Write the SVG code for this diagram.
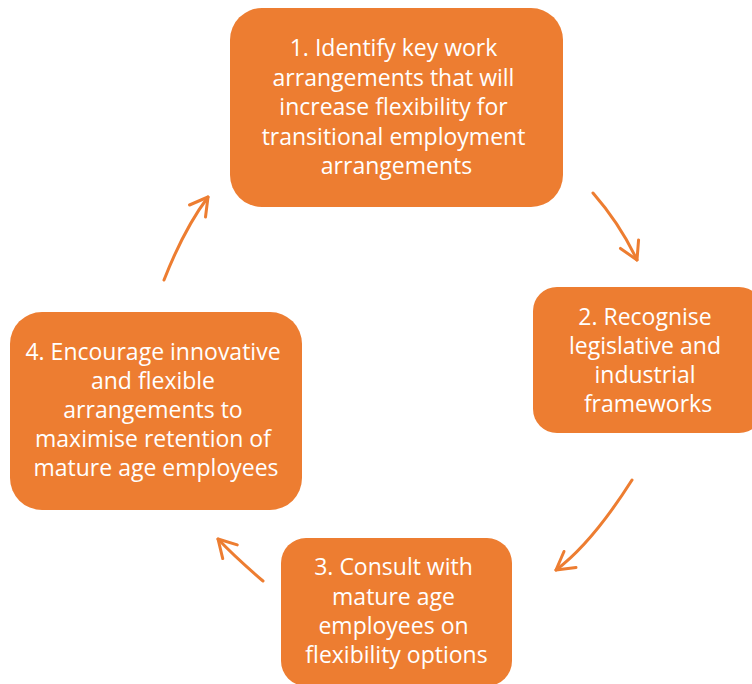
<svg xmlns="http://www.w3.org/2000/svg" width="752" height="684" viewBox="0 0 752 684">
  <style>
    .box { fill: #ED7D31; }
    .label { font-family: "Open Sans", "Liberation Sans", sans-serif; font-size: 23px; fill: #FFFFFF; text-anchor: middle; }
    .flow { fill: none; stroke: #ED7D31; stroke-width: 3; stroke-linecap: round; stroke-linejoin: round; }
  </style>
  <defs>
    <marker id="chevron" markerUnits="userSpaceOnUse" markerWidth="24" markerHeight="24" refX="0" refY="0" orient="auto" overflow="visible">
      <path d="M-17.5,-10 L0,0 L-17.5,10" fill="none" stroke="#ED7D31" stroke-width="3" stroke-linecap="round" stroke-linejoin="round"/>
    </marker>
  </defs>

  <rect width="752" height="684" fill="#FFFFFF"/>

  <g id="connectors">
    <path class="flow" d="M593,193 Q620,224 637,260" marker-end="url(#chevron)"/>
    <path class="flow" d="M632,480 Q592,543 556,570" marker-end="url(#chevron)"/>
    <path class="flow" d="M263,581 Q235,557 218,539" marker-end="url(#chevron)"/>
    <path class="flow" d="M164,280 Q184,229 208,197" marker-end="url(#chevron)"/>
  </g>

  <g id="step1">
    <rect class="box" x="230" y="8" width="333" height="199" rx="32"/>
    <text class="label">
      <tspan x="396.5" y="56">1. Identify key work</tspan>
      <tspan x="396.5" y="85.5">arrangements that will</tspan>
      <tspan x="396.5" y="115">increase flexibility for</tspan>
      <tspan x="396.5" y="144.5">transitional employment</tspan>
      <tspan x="396.5" y="174">arrangements</tspan>
    </text>
  </g>

  <g id="step2">
    <rect class="box" x="533" y="287" width="230" height="146" rx="24"/>
    <text class="label">
      <tspan x="648" y="325">2. Recognise</tspan>
      <tspan x="648" y="354">legislative and</tspan>
      <tspan x="648" y="383">industrial</tspan>
      <tspan x="648" y="412">frameworks</tspan>
    </text>
  </g>

  <g id="step3">
    <rect class="box" x="281" y="538" width="231" height="148" rx="25"/>
    <text class="label">
      <tspan x="396.5" y="575">3. Consult with</tspan>
      <tspan x="396.5" y="604.5">mature age</tspan>
      <tspan x="396.5" y="634">employees on</tspan>
      <tspan x="396.5" y="663">flexibility options</tspan>
    </text>
  </g>

  <g id="step4">
    <rect class="box" x="10" y="312" width="292" height="198" rx="32"/>
    <text class="label">
      <tspan x="156" y="360">4. Encourage innovative</tspan>
      <tspan x="156" y="389">and flexible</tspan>
      <tspan x="156" y="418">arrangements to</tspan>
      <tspan x="156" y="447">maximise retention of</tspan>
      <tspan x="156" y="476">mature age employees</tspan>
    </text>
  </g>
</svg>
